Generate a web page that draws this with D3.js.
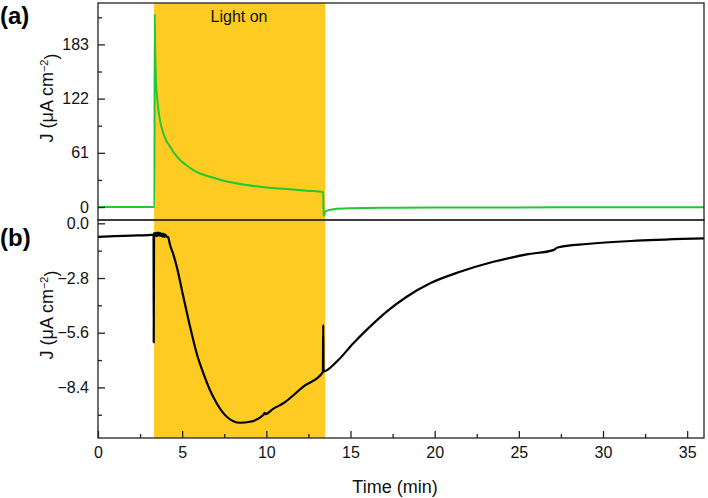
<!DOCTYPE html>
<html>
<head>
<meta charset="utf-8">
<script src="https://cdn.jsdelivr.net/npm/d3@7"></script>
<style>
    body { margin: 0; background: #fff; }
    svg { display: block; }
</style>
</head>
<body>
<div id="chart"></div>
<script>
    const WIDTH = 708, HEIGHT = 498;
    const LEFT = 98, RIGHT = 704, TOP = 3, MID = 220, BOTTOM = 438;
    const FONT_FAMILY = "'Liberation Sans', Arial, Helvetica, sans-serif";
    const BAND_COLOR = "#fecb22";
    const GREEN = "#22c832";

    // light on period (min)
    const lightOn = [3.33, 13.5];

    // x ticks
    const xTicks = [0, 5, 10, 15, 20, 25, 30, 35];
    const xMinorTicks = [2.5, 7.5, 12.5, 17.5, 22.5, 27.5, 32.5];

    // panel (a)
    const topTicks = [0, 61, 122, 183];
    const topMinorTicks = [30.5, 91.5, 152.5, 213.5];
    const topTime = [0, 3.30, 3.35, 3.37, 3.40, 3.45, 3.52, 3.59, 3.70, 3.88, 4.05, 4.28, 4.55, 4.87, 5.25, 5.66,
        6.10, 6.65, 7.30, 8.04, 8.80, 9.63, 10.5, 11.41, 12.4, 13.38, 13.40, 13.5, 13.7, 14.0, 15, 17, 20, 25, 30, 36];
    const topJ = [0, 0, 0, 217, 175, 139, 122, 109, 96, 83, 75, 68, 60, 53, 47, 41.6,
        37.5, 34.1, 30.5, 27.3, 24.8, 22.8, 21.2, 19.9, 18.3, 16.9, -10, -5.5, -3.5, -2.4, -1.4, -0.8, -0.6, -0.4, -0.3, -0.2];

    // panel (b)
    const bottomTicks = [0, -2.8, -5.6, -8.4];
    const bottomMinorTicks = [-1.4, -4.2, -7.0, -9.8];
    const bottomTime = [0, 1, 2, 3, 3.30, 3.31, 3.33, 3.40, 3.45, 3.50, 3.55, 3.60, 3.65, 3.70, 3.75, 3.80, 3.85,
        3.90, 3.95, 4.00, 4.08, 4.16, 4.28, 4.48, 4.68, 5.07, 5.47, 5.86, 6.26, 6.65, 7.05, 7.65, 8.44, 9.03,
        9.82, 9.90, 9.95, 10.4, 11.01, 12.2, 13.36, 13.38, 13.40, 14.18, 15.17, 16.16, 17.15, 18.34, 19.73,
        21.51, 23.49, 25.47, 27.05, 27.3, 29.04, 32.0, 36];
    const bottomJ = [-0.69, -0.66, -0.63, -0.60, -0.58, -6.1, -0.52, -0.50, -0.66, -0.48, -0.64, -0.47, -0.63,
        -0.50, -0.66, -0.52, -0.68, -0.54, -0.69, -0.58, -0.68, -0.70, -1.11, -1.6, -2.22, -3.76, -5.29, -6.65,
        -7.68, -8.53, -9.21, -9.90, -10.21, -10.16, -9.81, -9.70, -9.77, -9.5, -9.21, -8.36, -7.62, -5.2, -7.58,
        -7.08, -6.14, -5.29, -4.52, -3.76, -3.07, -2.48, -1.97, -1.59, -1.37, -1.24, -1.06, -0.89, -0.77];

    const topData = topTime.map((t, i) => ({t: t, j: topJ[i]}));
    const bottomData = bottomTime.map((t, i) => ({t: t, j: bottomJ[i]}));

    let svg = d3.select("#chart")
        .append("svg")
        .attr("width", WIDTH)
        .attr("height", HEIGHT)
        .style("font-family", FONT_FAMILY);

    let x = d3.scaleLinear().domain([0, 36]).range([LEFT, RIGHT]);
    let yTop = d3.scaleLinear().domain([-14.6, 229.6]).range([MID, TOP]);
    let yBottom = d3.scaleLinear().domain([-10.99, 0.17]).range([BOTTOM, MID]);

    // light on band
    svg.append("rect")
        .attr("x", x(lightOn[0]))
        .attr("y", TOP)
        .attr("width", x(lightOn[1]) - x(lightOn[0]))
        .attr("height", BOTTOM - TOP)
        .attr("fill", BAND_COLOR);

    svg.append("text")
        .attr("x", 239)
        .attr("y", 22)
        .attr("text-anchor", "middle")
        .style("font-size", "16px")
        .attr("fill", "#111")
        .text("Light on");

    // curves
    svg.append("path")
        .datum(topData)
        .attr("fill", "none")
        .attr("stroke", GREEN)
        .attr("stroke-width", 2)
        .attr("stroke-linejoin", "round")
        .attr("d", d3.line()
            .x(d => x(d.t))
            .y(d => yTop(d.j))
            .curve(d3.curveMonotoneX));

    svg.append("path")
        .datum(bottomData)
        .attr("fill", "none")
        .attr("stroke", "#000")
        .attr("stroke-width", 2.2)
        .attr("stroke-linejoin", "round")
        .attr("d", d3.line()
            .x(d => x(d.t))
            .y(d => yBottom(d.j))
            .curve(d3.curveMonotoneX));

    // axes
    function styleAxis(g) {
        g.select(".domain").remove();
        g.selectAll("line").attr("stroke", "#222").attr("stroke-width", 1.3);
        g.selectAll("text").style("font-size", "16px").style("font-family", FONT_FAMILY).attr("fill", "#111");
    }

    svg.append("g")
        .attr("transform", "translate(" + LEFT + ",0)")
        .call(d3.axisLeft(yTop).tickValues(topTicks).tickFormat(d3.format("d")).tickSize(-7).tickPadding(9))
        .call(styleAxis);
    svg.append("g")
        .attr("transform", "translate(" + LEFT + ",0)")
        .call(d3.axisLeft(yTop).tickValues(topMinorTicks).tickFormat("").tickSize(-4))
        .call(styleAxis);

    svg.append("g")
        .attr("transform", "translate(" + LEFT + ",0)")
        .call(d3.axisLeft(yBottom).tickValues(bottomTicks).tickFormat(d3.format(".1f")).tickSize(-7).tickPadding(9))
        .call(styleAxis);
    svg.append("g")
        .attr("transform", "translate(" + LEFT + ",0)")
        .call(d3.axisLeft(yBottom).tickValues(bottomMinorTicks).tickFormat("").tickSize(-4))
        .call(styleAxis);

    svg.append("g")
        .attr("transform", "translate(0," + BOTTOM + ")")
        .call(d3.axisBottom(x).tickValues(xTicks).tickFormat(d3.format("d")).tickSize(-7).tickPadding(9))
        .call(styleAxis);
    svg.append("g")
        .attr("transform", "translate(0," + BOTTOM + ")")
        .call(d3.axisBottom(x).tickValues(xMinorTicks).tickFormat("").tickSize(-4))
        .call(styleAxis);

    // frames
    [[TOP, MID], [MID, BOTTOM]].forEach(function (p) {
        svg.append("rect")
            .attr("x", LEFT)
            .attr("y", p[0])
            .attr("width", RIGHT - LEFT)
            .attr("height", p[1] - p[0])
            .attr("fill", "none")
            .attr("stroke", "#222")
            .attr("stroke-width", 1.3);
    });

    // labels
    function yTitle(cy) {
        let t = svg.append("text")
            .attr("transform", "translate(53," + cy + ") rotate(-90)")
            .attr("text-anchor", "middle")
            .style("font-size", "18px")
            .attr("fill", "#111");
        t.append("tspan").text("J (\u03bcA cm");
        t.append("tspan").attr("dy", "-0.5em").style("font-size", "11px").text("\u22122");
        t.append("tspan").attr("dy", "0.5em").text(")");
    }
    yTitle(98);
    yTitle(315);

    svg.append("text")
        .attr("x", 395)
        .attr("y", 493)
        .attr("text-anchor", "middle")
        .style("font-size", "18px")
        .attr("fill", "#111")
        .text("Time (min)");

    svg.append("text")
        .attr("x", 0)
        .attr("y", 24)
        .style("font-size", "24px")
        .style("font-weight", "bold")
        .text("(a)");
    svg.append("text")
        .attr("x", 0)
        .attr("y", 246)
        .style("font-size", "24px")
        .style("font-weight", "bold")
        .text("(b)");
</script>
</body>
</html>
